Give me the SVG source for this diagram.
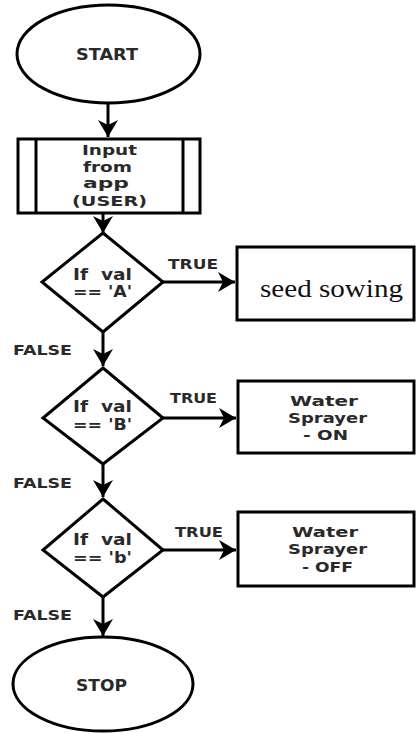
<svg xmlns="http://www.w3.org/2000/svg" width="416" height="733" viewBox="0 0 416 733">
<style>
.sh{fill:#fff;stroke:#000;stroke-width:3}
.ln{fill:none;stroke:#000;stroke-width:3}
.t{font-family:"DejaVu Sans",Verdana,sans-serif;font-weight:bold;font-size:15px;fill:#2a2a2a}
.m{font-family:"DejaVu Sans",Verdana,sans-serif;font-weight:bold;font-size:13.5px;fill:#2a2a2a}
.lbl{font-family:"DejaVu Sans",Verdana,sans-serif;font-weight:bold;font-size:14px;fill:#2a2a2a}
.serif{font-family:"Liberation Serif","Times New Roman",serif;font-size:25px;fill:#111}
</style>
<defs>
<marker id="ah" markerUnits="userSpaceOnUse" markerWidth="20" markerHeight="22" viewBox="-17 -11 20 22" refX="0" refY="0" orient="auto">
<path d="M0,0 L-17,-10 L-12,0 L-17,10 Z" fill="#000"/>
</marker>
</defs>
<rect width="416" height="733" fill="#fff"/>
<g id="connectors">
<line class="ln" x1="108" y1="103" x2="108" y2="137" marker-end="url(#ah)"/>
<line class="ln" x1="103" y1="213" x2="103" y2="233" marker-end="url(#ah)"/>
<line class="ln" x1="163" y1="282" x2="235" y2="282" marker-end="url(#ah)"/>
<line class="ln" x1="103" y1="332" x2="103" y2="366" marker-end="url(#ah)"/>
<line class="ln" x1="163" y1="418" x2="236" y2="418" marker-end="url(#ah)"/>
<line class="ln" x1="103" y1="464" x2="103" y2="497" marker-end="url(#ah)"/>
<line class="ln" x1="163" y1="550" x2="236" y2="550" marker-end="url(#ah)"/>
<line class="ln" x1="103" y1="597" x2="103" y2="636" marker-end="url(#ah)"/>
<text class="lbl" x="168" y="269" textLength="50" lengthAdjust="spacingAndGlyphs">TRUE</text>
<text class="lbl" x="13" y="355" textLength="59" lengthAdjust="spacingAndGlyphs">FALSE</text>
<text class="lbl" x="170" y="403" textLength="47" lengthAdjust="spacingAndGlyphs">TRUE</text>
<text class="lbl" x="13" y="488" textLength="59" lengthAdjust="spacingAndGlyphs">FALSE</text>
<text class="lbl" x="175" y="537" textLength="48" lengthAdjust="spacingAndGlyphs">TRUE</text>
<text class="lbl" x="13" y="620" textLength="59" lengthAdjust="spacingAndGlyphs">FALSE</text>
</g>
<g id="start">
<ellipse class="sh" cx="108.5" cy="54" rx="91.5" ry="49"/>
<text class="t" x="76" y="60" textLength="62" lengthAdjust="spacingAndGlyphs">START</text>
</g>
<g id="input">
<rect class="sh" x="18" y="139" width="182" height="74"/>
<line class="ln" x1="36" y1="139" x2="36" y2="213"/>
<line class="ln" x1="183" y1="139" x2="183" y2="213"/>
<text class="m" x="82" y="155" textLength="55" lengthAdjust="spacingAndGlyphs">Input</text>
<text class="m" x="83" y="172" textLength="49" lengthAdjust="spacingAndGlyphs">from</text>
<text class="m" x="83" y="188" textLength="46" lengthAdjust="spacingAndGlyphs">app</text>
<text class="m" x="72" y="206" textLength="75" lengthAdjust="spacingAndGlyphs">(USER)</text>
</g>
<g id="decisionA">
<polygon class="sh" points="103,233 163,282 103,332 42,282"/>
<text class="t" x="73" y="280" textLength="59" lengthAdjust="spacingAndGlyphs">If&#160; val</text>
<text class="t" x="73" y="297" textLength="59" lengthAdjust="spacingAndGlyphs">== 'A'</text>
</g>
<g id="seed">
<rect class="sh" x="237" y="247" width="177" height="73"/>
<text class="serif" x="260" y="297" textLength="143" lengthAdjust="spacingAndGlyphs">seed sowing</text>
</g>
<g id="decisionB">
<polygon class="sh" points="103,368 163,418 103,464 43,418"/>
<text class="t" x="73" y="412" textLength="59" lengthAdjust="spacingAndGlyphs">If&#160; val</text>
<text class="t" x="73" y="430" textLength="59" lengthAdjust="spacingAndGlyphs">== 'B'</text>
</g>
<g id="sprayerOn">
<rect class="sh" x="238" y="381" width="176" height="72"/>
<text class="m" x="290" y="406" textLength="68" lengthAdjust="spacingAndGlyphs">Water</text>
<text class="m" x="288" y="423" textLength="79" lengthAdjust="spacingAndGlyphs">Sprayer</text>
<text class="m" x="303" y="440" textLength="45" lengthAdjust="spacingAndGlyphs">- ON</text>
</g>
<g id="decisionb">
<polygon class="sh" points="103,499 163,550 103,597 43,550"/>
<text class="t" x="73" y="545" textLength="59" lengthAdjust="spacingAndGlyphs">If&#160; val</text>
<text class="t" x="73" y="563" textLength="59" lengthAdjust="spacingAndGlyphs">== 'b'</text>
</g>
<g id="sprayerOff">
<rect class="sh" x="238" y="512" width="176" height="74"/>
<text class="m" x="292" y="537" textLength="66" lengthAdjust="spacingAndGlyphs">Water</text>
<text class="m" x="288" y="554" textLength="79" lengthAdjust="spacingAndGlyphs">Sprayer</text>
<text class="m" x="302" y="572" textLength="51" lengthAdjust="spacingAndGlyphs">- OFF</text>
</g>
<g id="stop">
<ellipse class="sh" cx="103" cy="684" rx="90" ry="47"/>
<text class="t" x="76" y="691" textLength="51" lengthAdjust="spacingAndGlyphs">STOP</text>
</g>
</svg>
